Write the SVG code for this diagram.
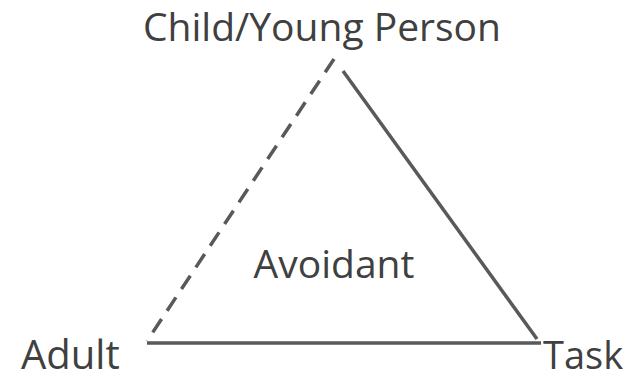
<svg xmlns="http://www.w3.org/2000/svg" width="626" height="373" viewBox="0 0 626 373">
<style>
.lbl{font-family:"Open Sans","Liberation Sans",sans-serif;fill:#404040;font-size:39px}
.big{font-size:40px}
.edge{stroke:#595959;stroke-width:3.5;fill:none}
.dash{stroke-dasharray:16 10}
</style>
<rect width="626" height="373" fill="#fff"/>
<g id="connectors">
<line class="edge dash" x1="334" y1="59" x2="147" y2="341"/>
<line class="edge" x1="343" y1="71" x2="537" y2="339"/>
<line class="edge" x1="147" y1="343" x2="541" y2="343"/>
</g>
<g id="child"><text class="lbl" x="322" y="41" text-anchor="middle">Child/Young Person</text></g>
<g id="adult"><text class="lbl big" x="21" y="369">Adult</text></g>
<g id="task"><text class="lbl" x="543" y="369" style="font-size:38px">Task</text></g>
<g id="avoidant"><text class="lbl" x="334" y="278" text-anchor="middle">Avoidant</text></g>
</svg>
